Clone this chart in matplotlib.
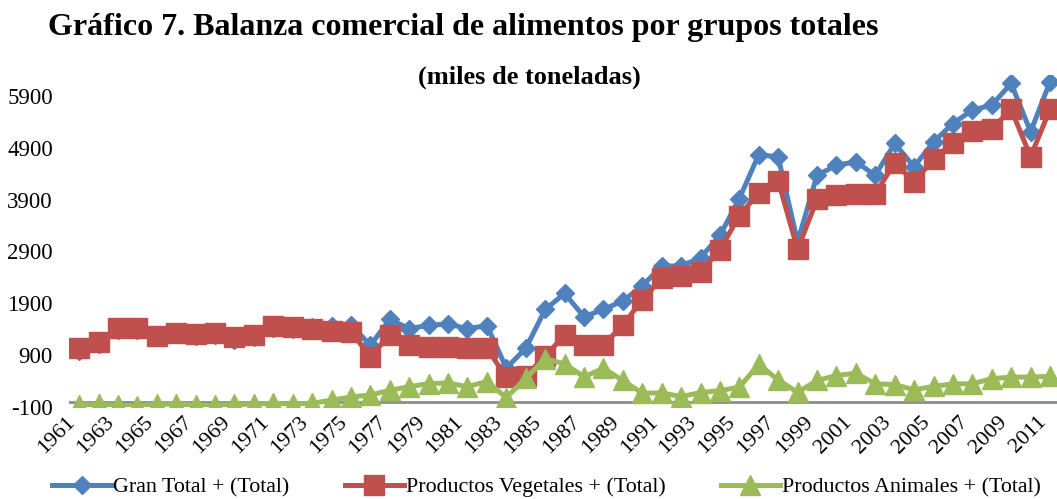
import matplotlib
matplotlib.use('Agg')
import matplotlib.pyplot as plt

plt.rcParams['font.family'] = ['Liberation Serif', 'DejaVu Serif']

# years 1961-2011
years = list(range(1961, 2012))

# Gran Total + (Total), miles de toneladas
gran_total = [975, 1110, 1380, 1375, 1240, 1300, 1270, 1280, 1200, 1245,
              1425, 1400, 1440, 1470, 1480, 1090, 1590, 1410, 1475, 1500,
              1410, 1470, 650, 1030, 1780, 2090, 1640, 1780, 1945, 2235,
              2620, 2620, 2780, 3210, 3920, 4770, 4725, 3085, 4370, 4565,
              4630, 4370, 4985, 4535, 5015, 5370, 5630, 5725, 6145, 5210,
              6175]

# Productos Vegetales + (Total)
vegetales = [1030, 1150, 1430, 1430, 1275, 1335, 1315, 1320, 1245, 1290,
             1460, 1435, 1395, 1370, 1345, 870, 1290, 1095, 1060, 1060,
             1045, 1030, 470, 500, 875, 1290, 1100, 1095, 1480, 1965,
             2385, 2425, 2510, 2930, 3590, 4035, 4265, 2940, 3905, 3990,
             4010, 4010, 4615, 4245, 4680, 5000, 5230, 5265, 5645, 4730,
             5645]

# Productos Animales + (Total)
animales = [-65, -50, -70, -75, -50, -45, -70, -70, -50, -50,
            -30, -45, -30, 30, 90, 130, 220, 290, 350, 360,
            290, 390, 80, 450, 830, 730, 480, 645, 410, 165,
            170, 100, 175, 215, 280, 720, 420, 180, 410, 505,
            550, 345, 330, 230, 295, 345, 345, 445, 475, 475,
            490]

y_ticks = [-100, 900, 1900, 2900, 3900, 4900, 5900]

fig = plt.figure(figsize=(10.57, 4.99), dpi=100)
ax = fig.add_axes([0.0657, 0.1846, 0.9343, 0.6644])

x = list(range(len(years)))
ax.axhline(0, color='#8c8c8c', lw=2, zorder=1)

ax.plot(x, gran_total, color='#4F81BD', lw=3.6, marker='D', ms=8.7,
        label='Gran Total + (Total)', zorder=3)
ax.plot(x, vegetales, color='#C0504D', lw=3.6, marker='s', ms=14,
        label='Productos Vegetales + (Total)', zorder=4)
ax.plot(x, animales, color='#9BBB59', lw=3.6, marker='^', ms=14,
        label='Productos Animales + (Total)', zorder=5)

ax.set_xlim(-0.5, 50.36)
ax.set_ylim(-100, 6300)
ax.set_yticks(y_ticks)
ax.set_yticklabels([str(v) for v in y_ticks], fontsize=16.5)
ax.set_xticks(x[::2])
ax.set_xticklabels([str(y) for y in years[::2]], rotation=45,
                   ha='right', va='top', fontsize=16)
ax.tick_params(axis='both', length=0)
ax.tick_params(axis='y', pad=12)
ax.tick_params(axis='x', pad=4)
for s in ax.spines.values():
    s.set_visible(False)

fig.text(48 / 1057, 1 - 35 / 499,
         'Gráfico 7. Balanza comercial de alimentos por grupos totales',
         fontsize=23, fontweight='bold', ha='left', va='baseline')
fig.text(529 / 1057, 1 - 77 / 499, '(miles de toneladas)',
         fontsize=19, fontweight='bold', ha='center', va='center')

fig.legend(loc='center', bbox_to_anchor=(0.517, 0.024), ncol=3,
           frameon=False, fontsize=15.8, numpoints=1, handlelength=2.7,
           handletextpad=0.1, columnspacing=2.5)

fig.savefig('out.png', dpi=100)
